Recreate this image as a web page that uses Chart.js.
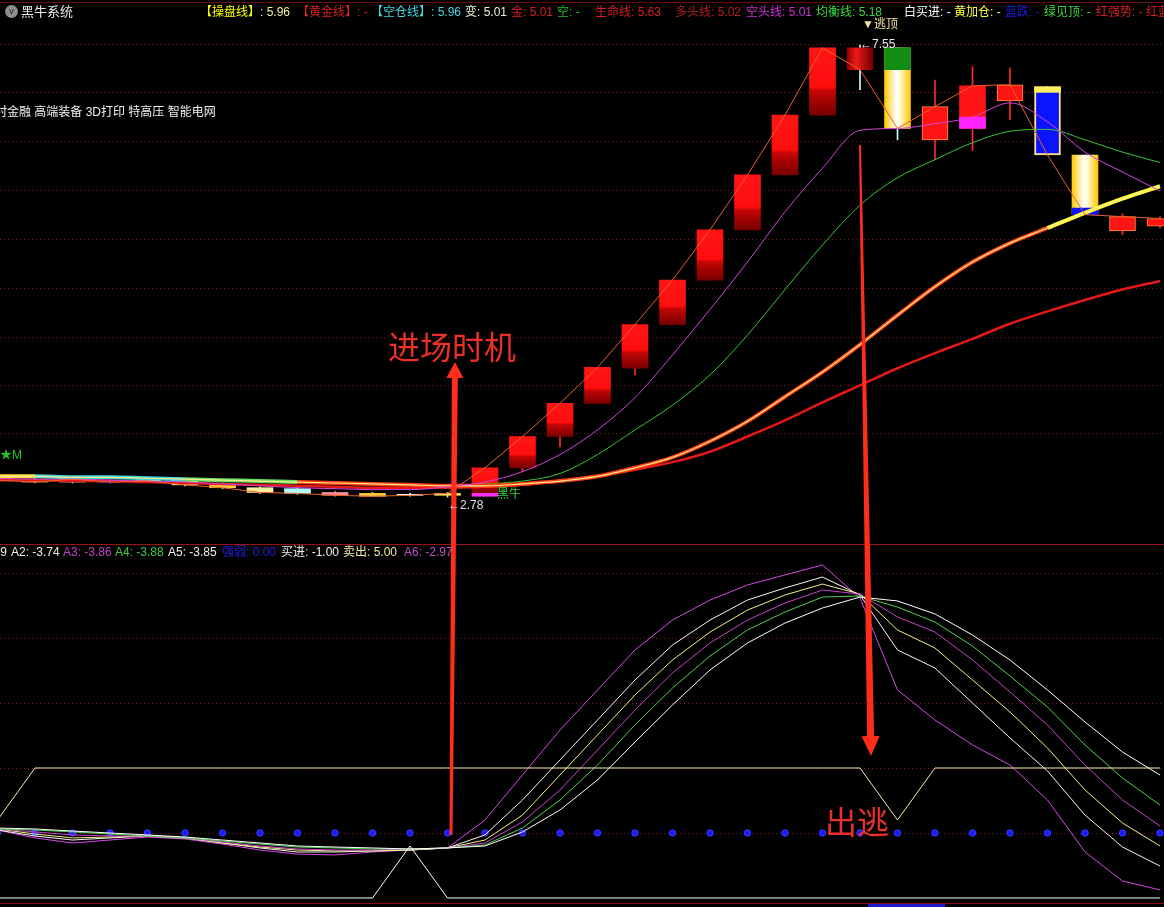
<!DOCTYPE html>
<html lang="zh-CN">
<head>
<meta charset="utf-8">
<title>黑牛系统</title>
<script src="https://cdn.jsdelivr.net/npm/chart.js@4.4.1/dist/chart.umd.min.js"></script>
<style>
html,body{margin:0;padding:0;background:#000;}
body{width:1164px;height:907px;position:relative;overflow:hidden;font-family:"Liberation Sans",Arial,"Noto Sans CJK SC",sans-serif;font-size:12px;color:#ddd;}
.t{position:absolute;white-space:nowrap;line-height:14px;}
canvas{position:absolute;left:0;}
#cTop{top:24px;}
#cBot{top:545px;}
#cOv{top:0;pointer-events:none;}
.ln{position:absolute;left:0;width:1164px;height:1px;}
.big{position:absolute;white-space:nowrap;font-family:"Noto Sans CJK SC",sans-serif;font-size:32px;line-height:36px;color:#ea3028;}
</style>
</head>
<body>
<div class="ln" style="top:2px;background:#6e0b0b"></div>
<div class="ln" style="top:544px;background:#9c1212"></div>
<div class="ln" style="top:903px;background:#8a1010"></div>
<div style="position:absolute;left:868px;top:904px;width:77px;height:3px;background:#1c1cc8"></div>

<canvas id="cTop" width="1164" height="520"></canvas>
<canvas id="cBot" width="1164" height="358"></canvas>
<canvas id="cOv" width="1164" height="907"></canvas>

<!-- top header -->
<div class="t" style="left:5px;top:5px;width:13px;height:13px;border-radius:50%;background:#8e8e8e;color:#222;font-size:9px;line-height:13px;text-align:center">v</div>
<div class="t" style="left:21px;top:5px;color:#e8e8e8;font-size:13px">黑牛系统</div>
<div class="t" style="left:200px;top:5px"><span style="color:#ffff00">【操盘线】</span><span style="color:#f4f0a0">: 5.96</span></div>
<div class="t" style="left:297px;top:5px;color:#d82020">【黄金线】: -</div>
<div class="t" style="left:371px;top:5px;color:#40d8e0">【空仓线】: 5.96</div>
<div class="t" style="left:465px;top:5px;color:#f0f0d8">变: 5.01</div>
<div class="t" style="left:511px;top:5px;color:#d82020">金: 5.01</div>
<div class="t" style="left:557px;top:5px;color:#20c020">空: -</div>
<div class="t" style="left:595px;top:5px;color:#d82020">生命线: 5.63</div>
<div class="t" style="left:675px;top:5px;color:#b81c1c">多头线: 5.02</div>
<div class="t" style="left:746px;top:5px;color:#d030d8">空头线: 5.01</div>
<div class="t" style="left:816px;top:5px;color:#40d840">均衡线: 5.18</div>
<div class="t" style="left:904px;top:5px;color:#ffffff">白买进: -</div>
<div class="t" style="left:954px;top:5px;color:#ffff40">黄加仓: -</div>
<div class="t" style="left:1005px;top:5px;color:#1c1ce0">蓝跌: -</div>
<div class="t" style="left:1044px;top:5px;color:#40d840">绿见顶: -</div>
<div class="t" style="left:1096px;top:5px;color:#d82020">红强势: -</div>
<div class="t" style="left:1146px;top:5px;color:#d82020">红蓝</div>

<!-- top panel labels -->
<div class="t" style="left:-17px;top:105px;color:#f0f0f0;font-size:12px">农村金融 高端装备 3D打印 特高压 智能电网</div>
<div class="t" style="left:0px;top:448px;color:#1ec81e">★M</div>
<div class="t" style="left:862px;top:17px;color:#f0e0a0">▼逃顶</div>
<div class="t" style="left:860px;top:37px;color:#e8e8f0">←7.55</div>
<div class="t" style="left:448px;top:498px;color:#e0e0f0">←2.78</div>
<div class="t" style="left:497px;top:487px;color:#40d040">黑牛</div>
<div class="big" style="left:388px;top:327px">进场时机</div>
<div class="big" style="left:825px;top:802px">出逃</div>

<!-- bottom header -->
<div class="t" style="right:1157px;top:545px;color:#f0f0e0">A1: -3.79</div>
<div class="t" style="left:11px;top:545px;color:#f0f0e0">A2: -3.74</div>
<div class="t" style="left:63px;top:545px;color:#c040c8">A3: -3.86</div>
<div class="t" style="left:115px;top:545px;color:#40c840">A4: -3.88</div>
<div class="t" style="left:168px;top:545px;color:#f0f0f0">A5: -3.85</div>
<div class="t" style="left:222px;top:545px;color:#2020e0">强弱: 0.00</div>
<div class="t" style="left:281px;top:545px;color:#f0f0f0">买进: -1.00</div>
<div class="t" style="left:343px;top:545px;color:#f0e8a0">卖出: 5.00</div>
<div class="t" style="left:404px;top:545px;color:#c050c8">A6: -2.97</div>

<script>
// ---- data: bar index, candles, moving lines ----
const idx = [0,1,2,3,4,5,6,7,8,9,10,11,12,13,14,15,16,17,18,19,20,21,22,23,24,25,26,27,28,29,30,31];

const open  = [2.99,2.97,2.94,2.95,2.96,2.96,2.92,2.88,2.87,2.83,2.82,2.81,2.80, 2.82,3.09,3.42,3.77,4.14,4.60,5.07,5.60,6.18,6.81, 7.52,7.52,6.55,6.67,6.96,7.11,6.39,5.59,5.64];
const close = [2.96,2.94,2.97,2.94,2.95,2.91,2.88,2.83,2.82,2.80,2.79,2.80,2.82, 3.09,3.42,3.77,4.15,4.60,5.07,5.60,6.18,6.81,7.52, 7.29,6.67,6.90,7.12,7.13,6.39,5.76,5.74,5.72];
const high  = [3.00,2.98,2.98,2.96,2.97,2.97,2.93,2.89,2.88,2.84,2.83,2.82,2.83, 3.09,3.42,3.77,4.15,4.60,5.07,5.60,6.18,6.81,7.52, 7.55,7.52,7.18,7.32,7.31,7.11,6.39,5.77,5.74];
const low   = [2.95,2.93,2.93,2.93,2.94,2.90,2.87,2.82,2.81,2.79,2.79,2.79,2.78, 2.79,3.05,3.31,3.77,4.07,4.60,5.07,5.60,6.18,6.81, 7.08,6.55,6.34,6.44,6.76,6.39,5.76,5.55,5.62];
// second colour band inside some bodies
const accentLow  = [null,null,null,null,null,null,null,null,null,null,null,null,null, 2.79,null,null,null,null,null,null,null,null,null, null,7.29,null,6.67,null,7.05,5.76,null,null];
const accentHigh = [null,null,null,null,null,null,null,null,null,null,null,null,null, 2.82,null,null,null,null,null,null,null,null,null, null,7.52,null,6.79,null,7.11,5.83,null,null];

const caoPan    = [3.00,3.00,2.99,2.99,2.98,2.97,2.96,2.95,2.94,2.93,2.92,2.91,2.90, 2.90,2.92,2.95,3.00,3.09,3.20,3.37,3.58,3.84,4.10,4.39,4.70,5.00,5.26,5.46,5.62,5.78,5.93,6.06];
const shengMing = [2.96,2.96,2.95,2.95,2.94,2.93,2.92,2.91,2.90,2.89,2.88,2.88,2.88, 2.89,2.91,2.95,3.00,3.07,3.15,3.26,3.42,3.59,3.78,3.96,4.14,4.30,4.45,4.61,4.74,4.86,4.97,5.06];
const kongTou   = [2.98,2.97,2.97,2.96,2.95,2.94,2.92,2.90,2.88,2.87,2.86,2.86,2.89, 2.94,3.05,3.23,3.49,3.83,4.28,4.76,5.26,5.79,6.25,6.65,6.67,6.72,6.79,6.94,6.74,6.42,6.21,6.01];
const junHeng   = [2.99,2.99,2.98,2.98,2.97,2.96,2.95,2.94,2.93,2.92,2.91,2.91,2.91, 2.92,2.95,3.03,3.23,3.49,3.75,4.07,4.49,4.97,5.44,5.86,6.15,6.34,6.52,6.64,6.66,6.55,6.42,6.31];

// ---- data: lower oscillator ----
const a1 = [0.23,-0.38,-0.77,-0.54,-0.31,-0.46,-0.85,-1.31,-1.62,-1.69,-1.46,-1.31,-1.15,1.00,4.46,7.92,11.00,14.08,16.38,17.92,19.08,19.85,20.62,18.08,11.00,8.69,6.77,5.23,2.54,-1.46,-3.69,-4.38];
const a2 = [0.23,-0.23,-0.54,-0.38,-0.23,-0.38,-0.77,-1.15,-1.46,-1.46,-1.38,-1.31,-1.15,-0.15,2.54,5.62,8.69,11.77,14.46,16.38,17.92,18.85,19.69,18.31,14.08,12.69,10.00,7.31,4.77,1.38,-1.08,-2.54];
const a3 = [0.31,-0.08,-0.38,-0.31,-0.23,-0.38,-0.77,-1.08,-1.31,-1.38,-1.38,-1.31,-1.15,-0.54,1.38,4.46,7.54,10.62,13.31,15.46,17.15,18.31,19.15,18.38,15.62,14.23,11.77,9.31,6.54,3.31,0.77,-1.00];
const a4 = [0.31,0.08,-0.15,-0.23,-0.23,-0.38,-0.69,-1.00,-1.23,-1.31,-1.31,-1.23,-1.15,-0.77,0.85,3.31,6.38,9.46,12.31,14.62,16.38,17.69,18.69,18.38,16.62,15.46,13.31,10.85,8.31,5.23,2.54,0.54];
const a5 = [0.31,0.23,0.08,-0.08,-0.23,-0.38,-0.62,-0.85,-1.08,-1.15,-1.23,-1.23,-1.15,-0.92,0.38,2.54,5.23,8.31,11.15,13.62,15.62,17.00,18.15,18.23,17.38,16.23,14.38,12.08,9.69,6.77,4.23,2.15];
const a6 = [0.38,0.31,0.15,0.00,-0.15,-0.31,-0.54,-0.77,-1.00,-1.08,-1.15,-1.23,-1.15,-1.00,0.08,1.77,4.08,7.00,9.85,12.54,14.62,16.15,17.31,18.15,17.85,16.85,15.23,13.31,11.00,8.54,6.23,4.46];
const sellLine = [1, 5,5,5,5,5,5,5,5,5,5, 5,5,5,5,5,5,5,5,5,5, 5,5,5, 1, 5,5,5,5,5,5,5];
const buyLine  = [-5,-5,-5,-5,-5,-5,-5,-5,-5,-5,-5,-1,-5, -5,-5,-5,-5,-5,-5,-5,-5,-5,-5,-5,-5,-5,-5,-5,-5,-5,-5,-5];
const weakDots = [0,0,0,0,0,0,0,0,0,0,0,0,0,0,0,0,0,0,0,0,0,0,0,0,0,0,0,0,0,0,0,0];

// axis ranges and grid levels
const xRange = {min: 0.0667, max: 31.1067};
const topRange = {min: 2.2863, max: 7.7715};
const botRange = {min: -5.385, max: 22.154};
const topGrid = [7.56,7.05,6.54,6.02,5.50,4.99,4.47,3.96,3.46];
const botGrid = [20,15,10,5,0];

// annotation arrows (bar index, panel, value)
const entryArrow = {tail:{i:12.093,panel:'bot',v:-0.15}, tip:{i:12.2,panel:'top',v:4.206}};
const exitArrow  = {tail:{i:23.0,panel:'top',v:6.495},  tip:{i:23.293,panel:'bot',v:5.92}};

// ---- styles ----
const candleKind = ['flat','flat','flat','flat','flat','flat','flat','flat','flat','flat','flat','flat','flat',
  'rise','rise','rise','rise','rise','rise','rise','rise','rise','rise',
  'dark','yellow','red','red','red','blue','yellow','red','red'];
const flatColors = ['#ff9a30','#ffb040','#ffc8c8','#ff40ff','#d0ffd0','#ffe070','#ffd040','#fff0a0','#b0ffff','#ff9090','#ffd040','#ffffff','#ffe060'];
const accentColors = {13:'#ff30ff',24:'#128c12',26:'#ff22ff',28:'#ffee60',29:'#1010ff'};
const borderColors = {25:'#ff9040',27:'#ff9040',28:'#ffe080',30:'#ff9040',31:'#ff9040'};
const wickColor = i => i<13 ? flatColors[i] : (i===23||i===24) ? '#c8ffff' : (i===28||i===29) ? '#ffe080' : '#ff2a2a';

function bodyFill(c){
  const ch=c.chart, i=c.dataIndex;
  if(!ch.chartArea) return '#f00';
  const k=candleKind[i];
  if(k==='flat') return flatColors[i];
  if(k==='red') return '#ff1414';
  if(k==='blue') return '#0a14ff';
  const x=ch.scales.x.getPixelForValue(idx[i]), ys=ch.scales.y, g2=ch.ctx;
  if(k==='rise'){
    const t=ys.getPixelForValue(Math.max(open[i],close[i])), b=ys.getPixelForValue(Math.min(open[i],close[i]));
    const g=g2.createLinearGradient(0,t,0,b);
    g.addColorStop(0,'#ff1515');g.addColorStop(0.58,'#ff0d0d');g.addColorStop(0.64,'#c40404');g.addColorStop(1,'#780000');
    return g;
  }
  const g=g2.createLinearGradient(x-13,0,x+13,0);
  if(k==='dark'){g.addColorStop(0,'#8c0000');g.addColorStop(0.35,'#f01818');g.addColorStop(1,'#700000');}
  else {g.addColorStop(0,'#ffc800');g.addColorStop(0.45,'#ffffff');g.addColorStop(0.6,'#fffbd0');g.addColorStop(1,'#ffc400');}
  return g;
}

const caoPanColor = i => i<1 ? '#ffe040' : i<5 ? '#40d8d8' : i<8 ? '#60e060' : i<28 ? '#ff3c10' : '#ffff30';

const dottedGrid = {
  id:'dottedGrid',
  beforeDatasetsDraw(chart, args, opts){
    const {ctx, chartArea:a, scales:{y}} = chart;
    ctx.save();
    ctx.strokeStyle=opts.color; ctx.lineWidth=1; ctx.setLineDash([1,3]);
    opts.values.forEach(v=>{
      const py=Math.round(y.getPixelForValue(v))+0.5;
      ctx.beginPath(); ctx.moveTo(a.left,py); ctx.lineTo(a.right,py); ctx.stroke();
    });
    ctx.restore();
  }
};

const common = {
  responsive:false, animation:false, events:[],
  layout:{padding:0, autoPadding:false},
  plugins:{legend:{display:false}, tooltip:{enabled:false}},
};
const xScale = {type:'linear', display:false, offset:false, bounds:'data', min:xRange.min, max:xRange.max};

const line = (data,color,w,extra) => Object.assign({type:'line',data,borderColor:color,borderWidth:w,pointRadius:0,tension:0,fill:false}, extra||{});

const topChart = new Chart(document.getElementById('cTop'), {
  type:'bar',
  data:{
    labels:idx,
    datasets:[
      {data:low.map((l,i)=>[l,high[i]]), backgroundColor:idx.map(wickColor), barThickness:1, grouped:false, order:9},
      {data:open.map((o,i)=>[o,close[i]]), backgroundColor:bodyFill, borderColor:idx.map(i=>borderColors[i]||'rgba(0,0,0,0)'),
        borderWidth:idx.map(i=>i===28?2:(borderColors[i]?1:0)), borderSkipped:false, barThickness:26, grouped:false, order:8},
      {data:accentLow.map((l,i)=>l==null?null:[l,accentHigh[i]]), backgroundColor:idx.map(i=>accentColors[i]||'#000'), barThickness:idx.map(i=>i===28?22:26), grouped:false, order:7},
      line(shengMing,'#e41818',2.5,{order:6,cubicInterpolationMode:'monotone'}),
      line(junHeng,'#34c834',1,{order:5,cubicInterpolationMode:'monotone'}),
      line(caoPan,'#ff3c10',4,{order:4,cubicInterpolationMode:'monotone',segment:{borderColor:s=>caoPanColor(s.p0DataIndex)}}),
      line(caoPan,'#ffe890',1.2,{order:3,cubicInterpolationMode:'monotone'}),
      line(kongTou,'#d444dc',1,{order:2,cubicInterpolationMode:'monotone'}),
      line(close,'#e8602c',1,{order:1})
    ]
  },
  options:Object.assign({}, common, {
    scales:{
      x:xScale,
      y:{type:'linear', display:false, bounds:'data', min:topRange.min, max:topRange.max}
    },
    plugins:Object.assign({}, common.plugins, {dottedGrid:{values:topGrid,color:'#7a1616'}})
  }),
  plugins:[dottedGrid]
});

const botChart = new Chart(document.getElementById('cBot'), {
  type:'line',
  data:{
    labels:idx,
    datasets:[
      line(sellLine,'#f6f0ae',1),
      line(buyLine,'#ffffff',1),
      line(a6,'#ffffff',1),
      line(a5,'#50d050',1),
      line(a4,'#c844c8',1),
      line(a3,'#f4f088',1),
      line(a2,'#fff4f4',1),
      line(a1,'#d848e8',1),
      {type:'line', data:weakDots, showLine:false, pointRadius:3.2, pointBackgroundColor:'#1a1aff', pointBorderColor:'#3a3aff', pointBorderWidth:1}
    ]
  },
  options:Object.assign({}, common, {
    scales:{
      x:xScale,
      y:{type:'linear', display:false, bounds:'data', min:botRange.min, max:botRange.max}
    },
    plugins:Object.assign({}, common.plugins, {dottedGrid:{values:botGrid,color:'#7a1616'}})
  }),
  plugins:[dottedGrid]
});

// ---- arrows on overlay, positioned through both charts' scales ----
function pagePt(p){
  const ch = p.panel==='top' ? topChart : botChart;
  const off = p.panel==='top' ? 24 : 545;
  return [ch.scales.x.getPixelForValue(p.i), off + ch.scales.y.getPixelForValue(p.v)];
}
function drawArrow(ctx, a, tailW, neckW, headW, headL){
  const [x0,y0]=pagePt(a.tail), [x1,y1]=pagePt(a.tip);
  const len=Math.hypot(x1-x0,y1-y0), dx=(x1-x0)/len, dy=(y1-y0)/len, nx=-dy, ny=dx;
  const cx=x1-dx*headL, cy=y1-dy*headL;
  ctx.beginPath();
  ctx.moveTo(x0+nx*tailW/2, y0+ny*tailW/2);
  ctx.lineTo(cx+nx*neckW/2, cy+ny*neckW/2);
  ctx.lineTo(cx+nx*headW/2, cy+ny*headW/2);
  ctx.lineTo(x1,y1);
  ctx.lineTo(cx-nx*headW/2, cy-ny*headW/2);
  ctx.lineTo(cx-nx*neckW/2, cy-ny*neckW/2);
  ctx.lineTo(x0-nx*tailW/2, y0-ny*tailW/2);
  ctx.closePath();
  ctx.fill();
}
const ov=document.getElementById('cOv').getContext('2d');
ov.fillStyle='#ff2d1a';
drawArrow(ov, entryArrow, 3, 6, 17, 16);
drawArrow(ov, exitArrow, 2, 7, 18, 20);
</script>
</body>
</html>
